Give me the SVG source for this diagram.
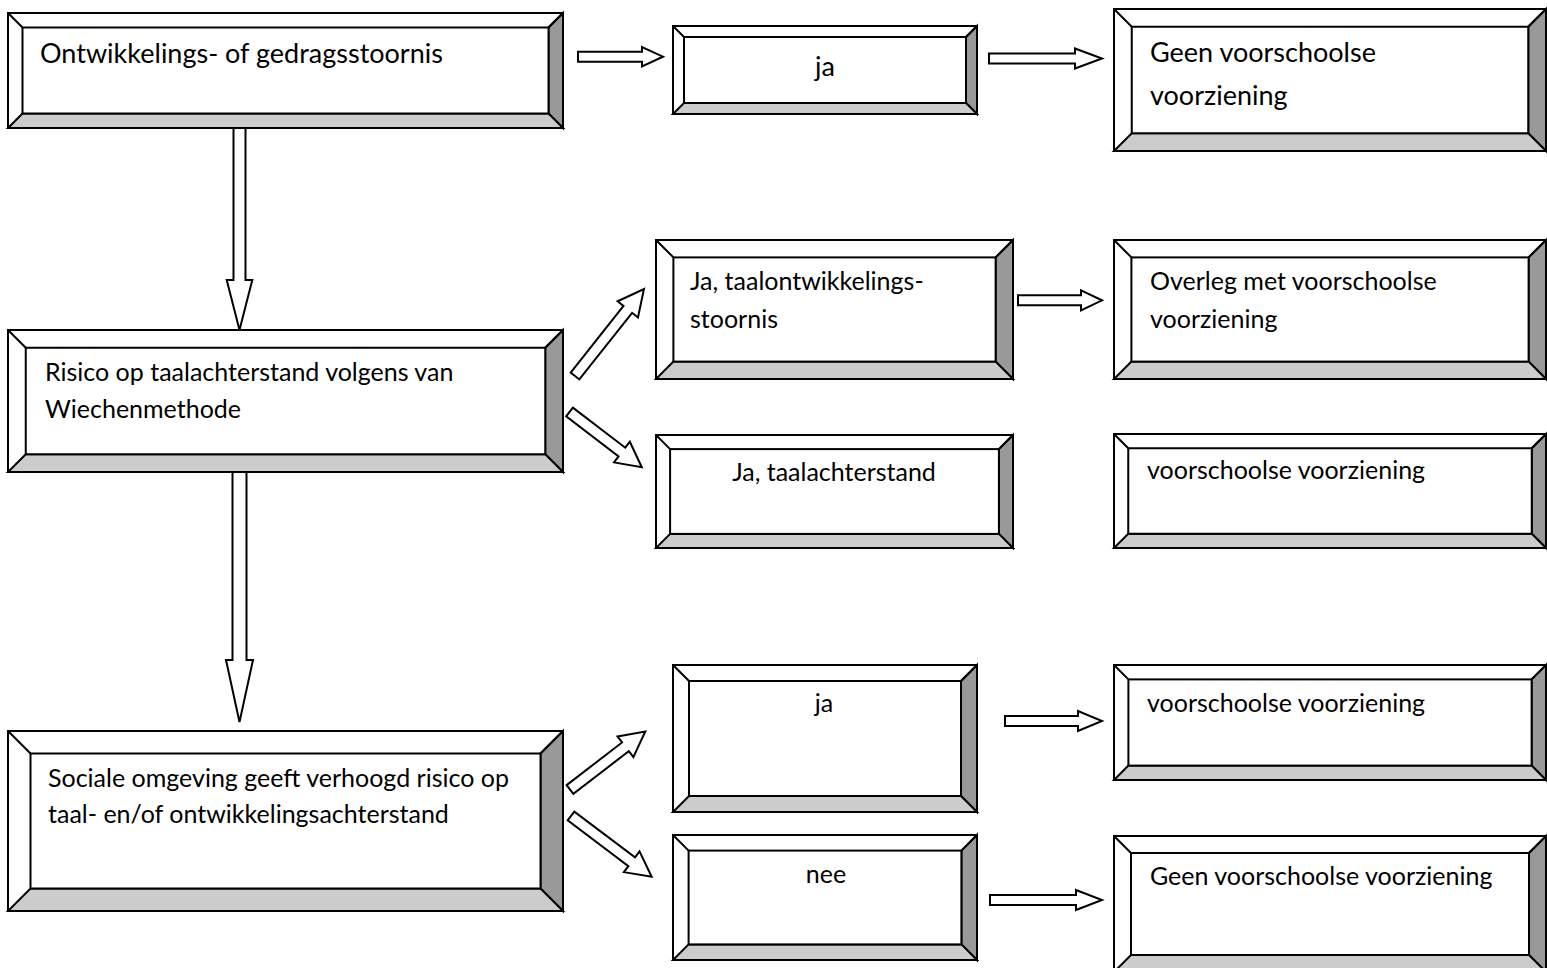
<svg xmlns="http://www.w3.org/2000/svg" width="1547" height="968" viewBox="0 0 1547 968">
<style>
.o{fill:#fff;stroke:#000;stroke-width:2}
.r{fill:#999;stroke:#000;stroke-width:2;stroke-linejoin:miter}
.b{fill:#ccc;stroke:#000;stroke-width:2}
.i{fill:#fff;stroke:#000;stroke-width:2}
.d{stroke:#000;stroke-width:2}
.a{fill:#fff;stroke:#000;stroke-width:2;stroke-linejoin:miter}
text{font-family:Lato,"Open Sans","Liberation Sans",sans-serif;font-size:25px;fill:#000}
.big{font-size:27px}
.c{text-anchor:middle}
</style>
<rect width="1547" height="968" fill="#fff"/>
<g id="connectors">
<path class="a" d="M0,-5 H64 V-9.7 L85,0 L64,9.7 V5 H0 Z" transform="translate(578,56.7)"/>
<path class="a" d="M0,-5 H86 V-10 L113,0 L86,10 V5 H0 Z" transform="translate(989,58.5)"/>
<path class="a" d="M0,-5 H63 V-10 L84,0 L63,10 V5 H0 Z" transform="translate(1018,300.3)"/>
<path class="a" d="M0,-5 H73 V-10 L97,0 L73,10 V5 H0 Z" transform="translate(1005,721)"/>
<path class="a" d="M0,-5 H86 V-10 L112,0 L86,10 V5 H0 Z" transform="translate(990,900)"/>
<path class="a" d="M-6,0 V152 H-12.8 L0,202 L12.8,152 H6 V0 Z" transform="translate(239.5,128)"/>
<path class="a" d="M-7,0 V205 H-13.5 L0,267 L13.5,205 H7 V0 Z" transform="translate(239.5,455)"/>
<path class="a" d="M0,-5.5 H85 V-13 L111,0 L85,13 V5.5 H0 Z" transform="translate(575,376) rotate(-51.6)"/>
<path class="a" d="M0,-5.5 H66 V-13 L91,0 L66,13 V5.5 H0 Z" transform="translate(569.5,412) rotate(37.4)"/>
<path class="a" d="M0,-5.5 H70 V-13 L95,0 L70,13 V5.5 H0 Z" transform="translate(570,789.5) rotate(-37.6)"/>
<path class="a" d="M0,-5.5 H76 V-13 L101,0 L76,13 V5.5 H0 Z" transform="translate(571,816) rotate(37)"/>
</g>
<g id="n1">
<rect class="o" x="8" y="13" width="555" height="115"/>
<path class="r" d="M563,13 L563,128 L548.5,113.5 L548.5,27.5 Z"/>
<path class="b" d="M8,128 L563,128 L548.5,113.5 L22.5,113.5 Z"/>
<rect class="i" x="22.5" y="27.5" width="526" height="86"/>
<path class="d" d="M8,13 L22.5,27.5 M563,13 L548.5,27.5"/>
<text class="big" x="40" y="63">Ontwikkelings- of gedragsstoornis</text>
</g>
<g id="n2">
<rect class="o" x="673" y="26" width="304" height="88"/>
<path class="r" d="M977,26 L977,114 L966,103 L966,37 Z"/>
<path class="b" d="M673,114 L977,114 L966,103 L684,103 Z"/>
<rect class="i" x="684" y="37" width="282" height="66"/>
<path class="d" d="M673,26 L684,37 M977,26 L966,37"/>
<text class="c big" x="825" y="76">ja</text>
</g>
<g id="n3">
<rect class="o" x="1114" y="9" width="432" height="142"/>
<path class="r" d="M1546,9 L1546,151 L1528.25,133.25 L1528.25,26.75 Z"/>
<path class="b" d="M1114,151 L1546,151 L1528.25,133.25 L1131.75,133.25 Z"/>
<rect class="i" x="1131.75" y="26.75" width="396.5" height="106.5"/>
<path class="d" d="M1114,9 L1131.75,26.75 M1546,9 L1528.25,26.75"/>
<text class="big" x="1150" y="62">Geen voorschoolse</text>
<text class="big" x="1150" y="105">voorziening</text>
</g>
<g id="n4">
<rect class="o" x="8" y="330" width="555" height="142"/>
<path class="r" d="M563,330 L563,472 L545.25,454.25 L545.25,347.75 Z"/>
<path class="b" d="M8,472 L563,472 L545.25,454.25 L25.75,454.25 Z"/>
<rect class="i" x="25.75" y="347.75" width="519.5" height="106.5"/>
<path class="d" d="M8,330 L25.75,347.75 M563,330 L545.25,347.75"/>
<text x="45" y="381">Risico op taalachterstand volgens van</text>
<text x="45" y="418">Wiechenmethode</text>
</g>
<g id="n5">
<rect class="o" x="656" y="240" width="357" height="139"/>
<path class="r" d="M1013,240 L1013,379 L995.6,361.6 L995.6,257.4 Z"/>
<path class="b" d="M656,379 L1013,379 L995.6,361.6 L673.4,361.6 Z"/>
<rect class="i" x="673.4" y="257.4" width="322.2" height="104.2"/>
<path class="d" d="M656,240 L673.4,257.4 M1013,240 L995.6,257.4"/>
<text x="690" y="290">Ja, taalontwikkelings-</text>
<text x="690" y="328">stoornis</text>
</g>
<g id="n6">
<rect class="o" x="1114" y="240" width="432" height="139"/>
<path class="r" d="M1546,240 L1546,379 L1528.6,361.6 L1528.6,257.4 Z"/>
<path class="b" d="M1114,379 L1546,379 L1528.6,361.6 L1131.4,361.6 Z"/>
<rect class="i" x="1131.4" y="257.4" width="397.2" height="104.2"/>
<path class="d" d="M1114,240 L1131.4,257.4 M1546,240 L1528.6,257.4"/>
<text x="1150" y="290">Overleg met voorschoolse</text>
<text x="1150" y="328">voorziening</text>
</g>
<g id="n7">
<rect class="o" x="656" y="435" width="357" height="113"/>
<path class="r" d="M1013,435 L1013,548 L998.9,533.9 L998.9,449.1 Z"/>
<path class="b" d="M656,548 L1013,548 L998.9,533.9 L670.1,533.9 Z"/>
<rect class="i" x="670.1" y="449.1" width="328.8" height="84.8"/>
<path class="d" d="M656,435 L670.1,449.1 M1013,435 L998.9,449.1"/>
<text class="c" x="834" y="481">Ja, taalachterstand</text>
</g>
<g id="n8">
<rect class="o" x="1114" y="434" width="432" height="114"/>
<path class="r" d="M1546,434 L1546,548 L1531.75,533.75 L1531.75,448.25 Z"/>
<path class="b" d="M1114,548 L1546,548 L1531.75,533.75 L1128.25,533.75 Z"/>
<rect class="i" x="1128.25" y="448.25" width="403.5" height="85.5"/>
<path class="d" d="M1114,434 L1128.25,448.25 M1546,434 L1531.75,448.25"/>
<text x="1147" y="479">voorschoolse voorziening</text>
</g>
<g id="n9">
<rect class="o" x="673" y="665" width="304" height="147"/>
<path class="r" d="M977,665 L977,812 L961,796 L961,681 Z"/>
<path class="b" d="M673,812 L977,812 L961,796 L689,796 Z"/>
<rect class="i" x="689" y="681" width="272" height="115"/>
<path class="d" d="M673,665 L689,681 M977,665 L961,681"/>
<text class="c" x="824" y="712">ja</text>
</g>
<g id="n10">
<rect class="o" x="1114" y="665" width="432" height="115"/>
<path class="r" d="M1546,665 L1546,780 L1531.6,765.6 L1531.6,679.4 Z"/>
<path class="b" d="M1114,780 L1546,780 L1531.6,765.6 L1128.4,765.6 Z"/>
<rect class="i" x="1128.4" y="679.4" width="403.2" height="86.2"/>
<path class="d" d="M1114,665 L1128.4,679.4 M1546,665 L1531.6,679.4"/>
<text x="1147" y="712">voorschoolse voorziening</text>
</g>
<g id="n11">
<rect class="o" x="8" y="731" width="555" height="180"/>
<path class="r" d="M563,731 L563,911 L540.5,888.5 L540.5,753.5 Z"/>
<path class="b" d="M8,911 L563,911 L540.5,888.5 L30.5,888.5 Z"/>
<rect class="i" x="30.5" y="753.5" width="510" height="135"/>
<path class="d" d="M8,731 L30.5,753.5 M563,731 L540.5,753.5"/>
<text x="48" y="787">Sociale omgeving geeft verhoogd risico op</text>
<text x="48" y="823">taal- en/of ontwikkelingsachterstand</text>
</g>
<g id="n12">
<rect class="o" x="673" y="835" width="304" height="125"/>
<path class="r" d="M977,835 L977,960 L961.4,944.4 L961.4,850.6 Z"/>
<path class="b" d="M673,960 L977,960 L961.4,944.4 L688.6,944.4 Z"/>
<rect class="i" x="688.6" y="850.6" width="272.8" height="93.8"/>
<path class="d" d="M673,835 L688.6,850.6 M977,835 L961.4,850.6"/>
<text class="c" x="826" y="883">nee</text>
</g>
<g id="n13">
<rect class="o" x="1114" y="836" width="432" height="136"/>
<path class="r" d="M1546,836 L1546,972 L1529,955 L1529,853 Z"/>
<path class="b" d="M1114,972 L1546,972 L1529,955 L1131,955 Z"/>
<rect class="i" x="1131" y="853" width="398" height="102"/>
<path class="d" d="M1114,836 L1131,853 M1546,836 L1529,853"/>
<text x="1150" y="885">Geen voorschoolse voorziening</text>
</g>
</svg>
